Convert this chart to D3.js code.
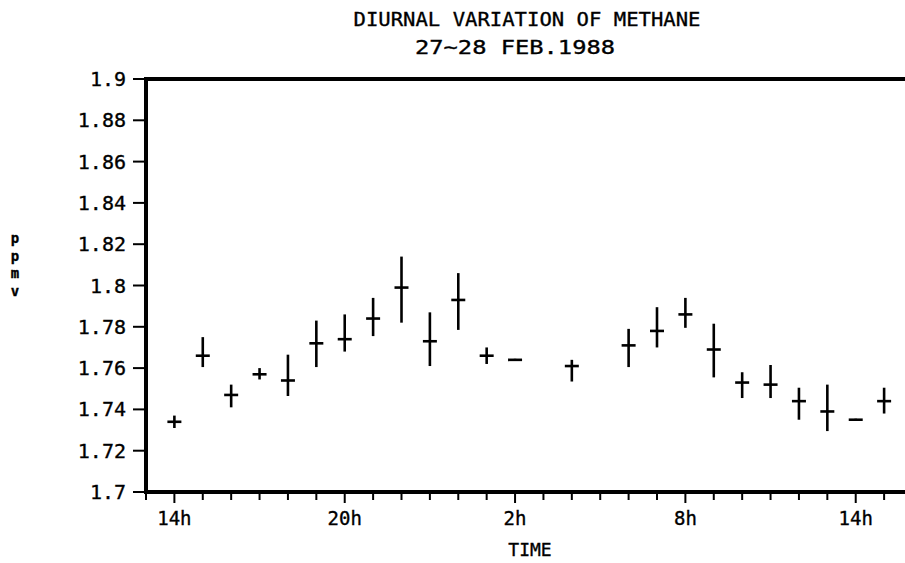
<!DOCTYPE html>
<html><head><meta charset="utf-8">
<script src="https://cdn.jsdelivr.net/npm/d3@7"></script>
<style>body{margin:0;background:#fff}svg{display:block}text{font-family:"DejaVu Sans Mono",monospace;fill:#000;stroke:#000;stroke-width:0.35}</style>
</head><body><svg id="c" width="905" height="563"></svg>
<script>
// hours since 0h on 27 Feb 1988
const hours = [14,15,16,17,18,19,20,21,22,23,24,25,26,28,30,31,32,33,34,35,36,37,38,39];
const mean  = [1.734,1.766,1.747,1.757,1.754,1.772,1.774,1.784,1.799,1.773,1.793,1.766,1.764,1.761,1.771,1.778,1.786,1.769,1.753,1.752,1.744,1.739,1.735,1.744];
const low   = [1.731,1.7605,1.741,1.7545,1.7465,1.7605,1.768,1.7755,1.782,1.761,1.7785,1.762,1.7635,1.7535,1.7605,1.770,1.7795,1.7555,1.7455,1.7455,1.735,1.7295,1.7345,1.738];
const high  = [1.737,1.775,1.752,1.760,1.7665,1.783,1.786,1.794,1.814,1.787,1.806,1.770,1.7645,1.764,1.779,1.7895,1.794,1.7815,1.758,1.7615,1.7505,1.752,1.7355,1.7505];
const yTicks = [1.7,1.72,1.74,1.76,1.78,1.8,1.82,1.84,1.86,1.88,1.9];
const yTickLabels = ["1.7","1.72","1.74","1.76","1.78","1.8","1.82","1.84","1.86","1.88","1.9"];
const xMajor = [14,20,26,32,38];
const xMajorLabels = ["14h","20h","2h","8h","14h"];
const xMinor = d3.range(13,41);

const svg = d3.select("#c");
const x = d3.scaleLinear().domain([13,40]).range([146,912.5]);
const y = d3.scaleLinear().domain([1.7,1.9]).range([492,79]);

// title
svg.append("text").attr("x",527).attr("y",26).attr("text-anchor","middle")
  .attr("font-size",20).attr("textLength",347).attr("lengthAdjust","spacingAndGlyphs")
  .text("DIURNAL VARIATION OF METHANE");
svg.append("text").attr("x",515).attr("y",54).attr("text-anchor","middle")
  .attr("font-size",20).attr("textLength",200).attr("lengthAdjust","spacingAndGlyphs")
  .text("27~28 FEB.1988");

// y ticks
const gy = svg.append("g");
gy.selectAll("line").data(yTicks).join("line")
  .attr("x1",133).attr("x2",146).attr("y1",d=>y(d)).attr("y2",d=>y(d))
  .attr("stroke","#000").attr("stroke-width",2);
gy.selectAll("text").data(yTicks).join("text")
  .attr("x",126).attr("y",d=>y(d)+7).attr("text-anchor","end").attr("font-size",20)
  .text((d,i)=>yTickLabels[i]);

// x ticks
const gx = svg.append("g");
gx.selectAll("line.mi").data(xMinor).join("line").attr("class","mi")
  .attr("x1",d=>x(d)).attr("x2",d=>x(d)).attr("y1",492).attr("y2",d=>xMajor.includes(d)?503:500)
  .attr("stroke","#000").attr("stroke-width",2);
gx.selectAll("text").data(xMajor).join("text")
  .attr("x",d=>x(d)).attr("y",525).attr("text-anchor","middle").attr("font-size",19)
  .text((d,i)=>xMajorLabels[i]);

// frame
svg.append("line").attr("x1",144).attr("x2",905).attr("y1",79).attr("y2",79).attr("stroke","#000").attr("stroke-width",4);
svg.append("line").attr("x1",144).attr("x2",905).attr("y1",492).attr("y2",492).attr("stroke","#000").attr("stroke-width",4);
svg.append("line").attr("x1",146).attr("x2",146).attr("y1",77).attr("y2",494).attr("stroke","#000").attr("stroke-width",4);

// axis titles
svg.append("text").attr("x",530).attr("y",556).attr("text-anchor","middle").attr("font-size",18).text("TIME");
const yl = "ppmv".split("");
svg.selectAll("text.yl").data(yl).join("text").attr("class","yl")
  .attr("x",15).attr("y",(d,i)=>243+i*17.5).attr("text-anchor","middle").attr("font-size",14).attr("font-weight","bold").text(d=>d);

// data marks
const idx = d3.range(hours.length);
const gm = svg.append("g").attr("stroke","#000").attr("stroke-width",2.6);
gm.selectAll("line.v").data(idx).join("line").attr("class","v")
  .attr("x1",i=>x(hours[i])).attr("x2",i=>x(hours[i]))
  .attr("y1",i=>y(high[i])).attr("y2",i=>y(low[i]));
gm.selectAll("line.h").data(idx).join("line").attr("class","h")
  .attr("x1",i=>x(hours[i])-7).attr("x2",i=>x(hours[i])+7)
  .attr("y1",i=>y(mean[i])).attr("y2",i=>y(mean[i]));
</script></body></html>
